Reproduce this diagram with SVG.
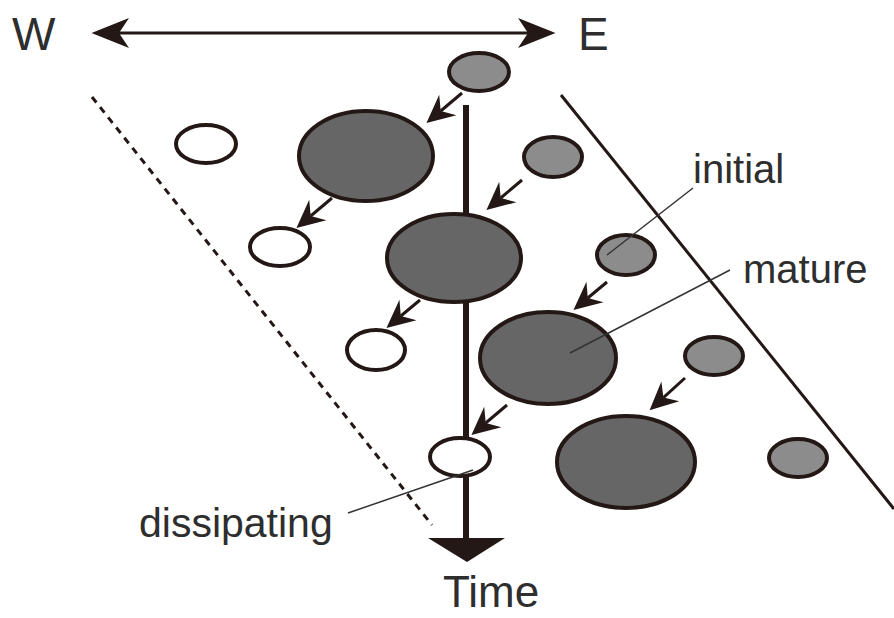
<svg xmlns="http://www.w3.org/2000/svg" width="894" height="618" viewBox="0 0 894 618">
<defs>
<style>
.ln{stroke:#231815;fill:none}
.arr{stroke:#231815;stroke-width:3;fill:none;marker-end:url(#ah)}
.lead{stroke:#333;stroke-width:1.5;fill:none}
.cell{stroke:#231815;stroke-width:4}
.dark{fill:#666}
.light{fill:#8c8c8c}
.open{fill:#fff}
text{font-family:"Liberation Sans",Arial,sans-serif;fill:#2e2e2e}
</style>
<marker id="ah" markerUnits="userSpaceOnUse" markerWidth="40" markerHeight="40" viewBox="-10 -15 30 30" refX="0" refY="0" orient="auto">
<path d="M14,0 L-7,-10 L0,0 L-7,10 Z" fill="#231815"/>
</marker>
<marker id="bh" markerUnits="userSpaceOnUse" markerWidth="50" markerHeight="40" viewBox="-10 -15 40 30" refX="0" refY="0" orient="auto-start-reverse">
<path d="M22,0 L-8,-12 L0,0 L-8,12 Z" fill="#231815"/>
</marker>
</defs>

<g id="connectors">
<line class="ln" x1="119" y1="33" x2="528" y2="33" stroke-width="3" marker-start="url(#bh)" marker-end="url(#bh)"/>
<line class="ln" x1="92" y1="97" x2="432" y2="525" stroke-width="3" stroke-dasharray="7,6"/>
<line class="ln" x1="561" y1="95" x2="894" y2="509" stroke-width="3"/>
<line class="ln" x1="466" y1="105" x2="466" y2="540" stroke-width="6"/>
<polygon points="428,538 505,538 467,562" fill="#231815"/>
<line class="arr" x1="462" y1="93" x2="440.7" y2="111"/>
<line class="arr" x1="332" y1="198" x2="310.7" y2="216"/>
<line class="arr" x1="522" y1="180" x2="500.7" y2="198"/>
<line class="arr" x1="420" y1="300" x2="400.8" y2="316"/>
<line class="arr" x1="607" y1="282" x2="587.8" y2="298"/>
<line class="arr" x1="507" y1="405" x2="485.7" y2="423"/>
<line class="arr" x1="685" y1="378" x2="663.4" y2="397.6"/>
</g>

<g id="cell-g1"><ellipse class="cell light" cx="479" cy="72" rx="30" ry="19"/></g>
<g id="cell-d1"><ellipse class="cell dark" cx="366" cy="156" rx="67" ry="45"/></g>
<g id="cell-o1"><ellipse class="cell open" cx="206" cy="144" rx="30" ry="19"/></g>
<g id="cell-o2"><ellipse class="cell open" cx="280" cy="247" rx="30" ry="19"/></g>
<g id="cell-d2"><ellipse class="cell dark" cx="454" cy="258" rx="67" ry="44"/></g>
<g id="cell-g2"><ellipse class="cell light" cx="553" cy="157" rx="29" ry="20"/></g>
<g id="cell-g3"><ellipse class="cell light" cx="626" cy="255" rx="29" ry="20"/></g>
<g id="cell-d3"><ellipse class="cell dark" cx="548" cy="358" rx="68" ry="46"/></g>
<g id="cell-o3"><ellipse class="cell open" cx="376" cy="350" rx="29" ry="20"/></g>
<g id="cell-g4"><ellipse class="cell light" cx="714" cy="356" rx="29" ry="19"/></g>
<g id="cell-o4"><ellipse class="cell open" cx="460" cy="457" rx="30" ry="19"/></g>
<g id="cell-d4"><ellipse class="cell dark" cx="626" cy="462" rx="69" ry="46"/></g>
<g id="cell-g5"><ellipse class="cell light" cx="798" cy="458" rx="29" ry="19"/></g>

<g id="leaders">
<line class="lead" x1="693" y1="188" x2="607" y2="255"/>
<line class="lead" x1="730" y1="270" x2="570" y2="353"/>
<line class="lead" x1="348" y1="513" x2="473" y2="470"/>
</g>

<g id="labels">
<text x="12" y="50" font-size="46">W</text>
<text x="578" y="50" font-size="46">E</text>
<text x="693" y="183" font-size="40">initial</text>
<text x="743" y="283" font-size="40">mature</text>
<text x="139" y="537" font-size="41">dissipating</text>
<text x="443" y="607" font-size="44">Time</text>
</g>
</svg>
